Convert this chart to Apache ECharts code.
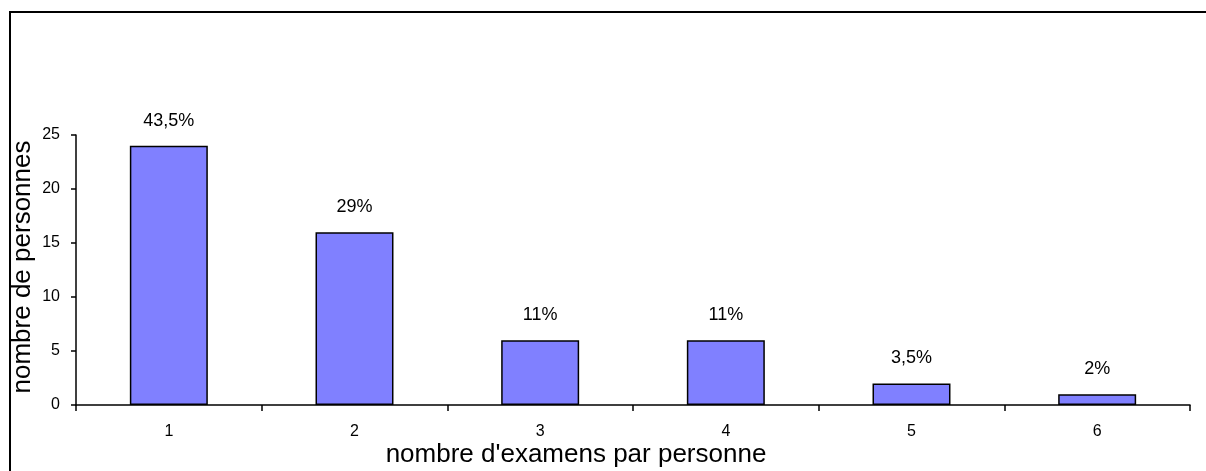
<!DOCTYPE html>
<html>
<head>
<meta charset="utf-8">
<style>
  html, body { margin: 0; padding: 0; background: #fff; }
  #chart { width: 1206px; height: 471px; }
</style>
<script src="https://cdn.jsdelivr.net/npm/echarts@6/dist/echarts.min.js"></script>
</head>
<body>
<div id="chart"></div>
<script>
// Number of exams per person (categories) and number of persons per category
const categories = ['1', '2', '3', '4', '5', '6'];
const persons = [24, 16, 6, 6, 2, 1];
// Share of persons shown above each bar
const shareLabels = ['43,5%', '29%', '11%', '11%', '3,5%', '2%'];

const FONT = '"Liberation Sans", Arial, sans-serif';

const chart = echarts.init(document.getElementById('chart'), null, { renderer: 'canvas' });

chart.setOption({
  animation: false,
  backgroundColor: '#ffffff',
  grid: { left: 76, right: 16, top: 135, bottom: 66, containLabel: false },
  xAxis: {
    type: 'category',
    data: categories,
    boundaryGap: true,
    axisLine: { show: true, lineStyle: { color: '#000', width: 1.5 } },
    axisTick: { show: true, interval: 0, length: 6, inside: false, lineStyle: { color: '#000', width: 1.5 } },
    axisLabel: { color: '#000', fontFamily: FONT, fontSize: 16, margin: 19 },
    splitLine: { show: false }
  },
  yAxis: {
    type: 'value',
    min: 0,
    max: 25,
    interval: 5,
    axisLine: { show: true, lineStyle: { color: '#000', width: 1.5 } },
    axisTick: { show: true, length: 5, inside: false, lineStyle: { color: '#000', width: 1.5 } },
    axisLabel: { color: '#000', fontFamily: FONT, fontSize: 16, margin: 16 },
    splitLine: { show: false }
  },
  series: [{
    type: 'bar',
    data: persons,
    barWidth: '42%',
    itemStyle: { color: '#8080FF', borderColor: '#000', borderWidth: 1.5 },
    label: {
      show: true,
      position: 'top',
      distance: 16,
      color: '#000',
      fontFamily: FONT,
      fontSize: 18,
      formatter: p => shareLabels[p.dataIndex]
    }
  }],
  graphic: [
    {
      type: 'rect',
      silent: true,
      shape: { x: 10, y: 12, width: 1300, height: 600 },
      style: { fill: 'none', stroke: '#000', lineWidth: 2 }
    },
    {
      type: 'text',
      silent: true,
      x: 23,
      y: 267,
      rotation: Math.PI / 2,
      style: {
        text: 'nombre de personnes',
        fontFamily: FONT,
        fontSize: 26,
        fill: '#000',
        align: 'center',
        verticalAlign: 'middle'
      }
    },
    {
      type: 'text',
      silent: true,
      x: 576,
      y: 455,
      style: {
        text: "nombre d'examens par personne",
        fontFamily: FONT,
        fontSize: 26,
        fill: '#000',
        align: 'center',
        verticalAlign: 'middle'
      }
    }
  ]
});
</script>
</body>
</html>
